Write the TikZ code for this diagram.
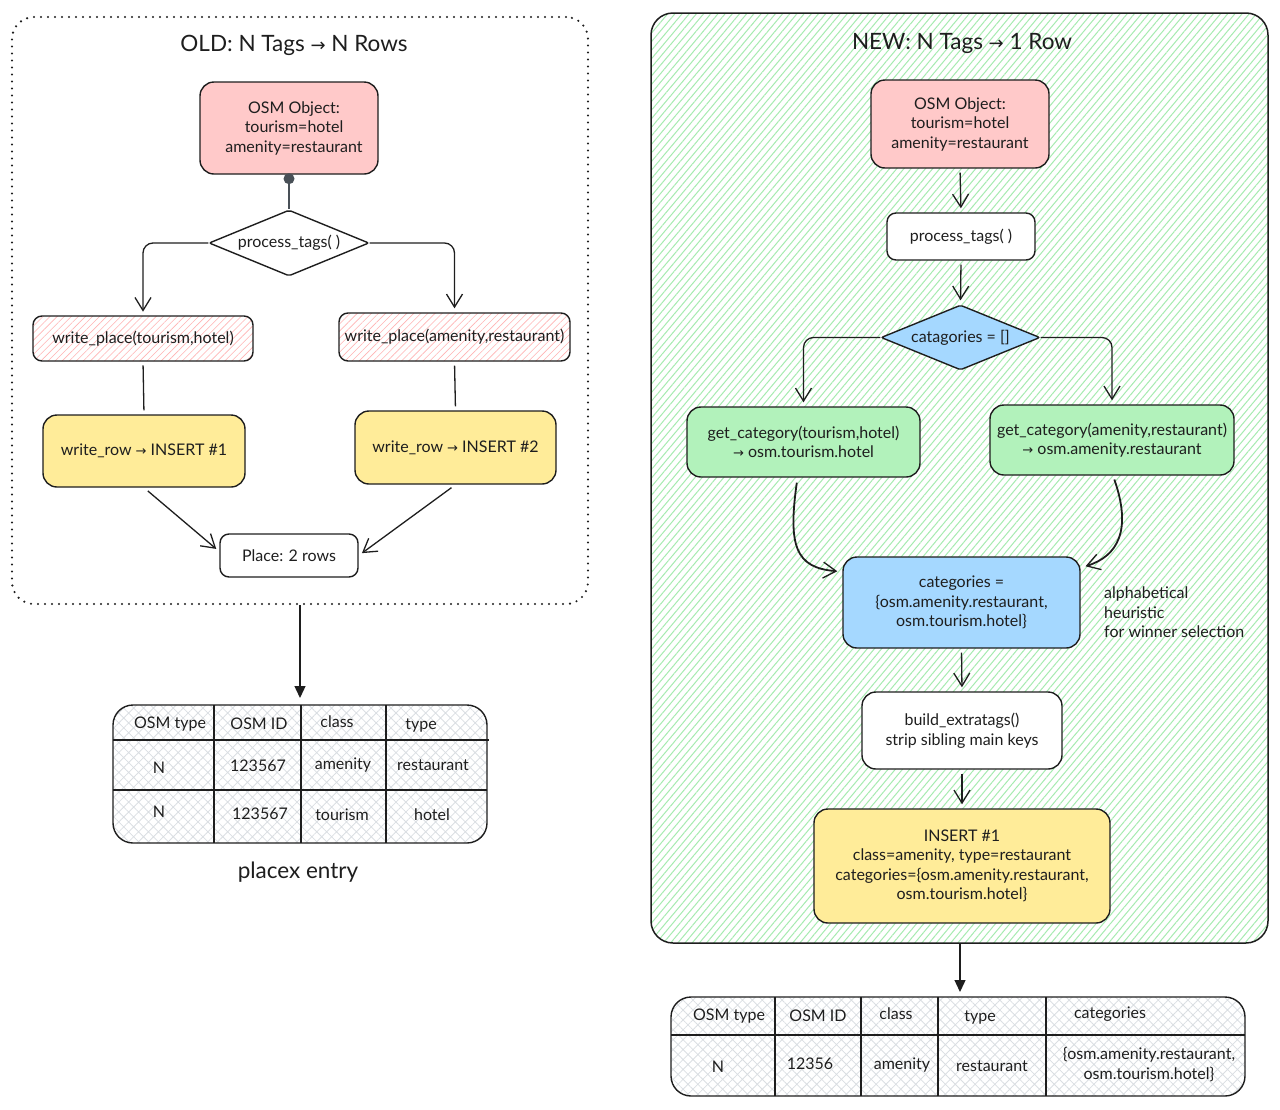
\documentclass[tikz,border=0pt]{standalone}
\usepackage{fontspec}
\setmainfont{Lato}
\newfontfamily\symf{DejaVu Sans}
\usetikzlibrary{shapes.geometric,arrows.meta,patterns.meta,calc}
\definecolor{ink}{HTML}{1E1E1E}
\definecolor{pinkc}{HTML}{FFC9C9}
\definecolor{yellowc}{HTML}{FFEC99}
\definecolor{greenc}{HTML}{B2F2BB}
\definecolor{bluec}{HTML}{A5D8FF}
\definecolor{hatchg}{HTML}{A6EBB0}
\definecolor{hatchr}{HTML}{FFB3B3}
\definecolor{hatchgr}{HTML}{DADEE2}
\definecolor{dotc}{HTML}{495057}
\newcommand\nodefont{\fontsize{16}{19.5}\selectfont}
\newcommand\titlefont{\fontsize{22.5}{26}\selectfont}
\newcommand\ra{{\symf\fontsize{13}{15}\selectfont →}}
\begin{document}
\begin{tikzpicture}[x=1pt,y=-1pt,
  every node/.style={text=ink},
  box/.style={draw=ink, line width=1.4pt, rounded corners=14pt, align=center, font=\nodefont, inner sep=2pt},
  sbox/.style={box, rounded corners=9pt},
  hatchred/.style={sbox, preaction={fill=white}, pattern={Lines[angle=45,distance=5pt,line width=0.6pt]}, pattern color=hatchr},
  dia/.style={draw=ink, line width=1.4pt, diamond, aspect=2.45, inner sep=0pt, rounded corners=2pt, font=\nodefont},
  arr/.style={draw=ink, line width=1.3pt, shorten >=4pt, -{Straight Barb[length=13pt,width=16pt,line width=1.3pt]}},
  farr/.style={draw=ink, line width=1.3pt, shorten >=2pt, -{Triangle[length=12pt,width=11pt]}},
  conn/.style={draw=ink, line width=1.3pt},
  cell/.style={font=\nodefont, align=center, inner sep=1pt},
  tab/.style={draw=ink, line width=1.4pt, rounded corners=20pt, pattern={Hatch[angle=45,distance=7pt,line width=0.8pt]}, pattern color=hatchgr},
  sep/.style={draw=ink, line width=1.3pt}
]
\useasboundingbox (0,0) rectangle (1280,1109);

% ---------- panels ----------
\node[draw=ink, line width=2.4pt, dash pattern=on 0pt off 7pt, line cap=round, rounded corners=22pt, minimum width=576, minimum height=587] (oldp) at (300,310.5) {};
\node[draw=ink, line width=1.5pt, rounded corners=22pt, minimum width=617, minimum height=930, preaction={fill=white}, pattern={Lines[angle=50,distance=5.5pt,line width=1pt]}, pattern color=hatchg] (newp) at (959.5,478) {};

\node[font=\titlefont] (tL) at (294,45) {OLD: N Tags {\symf\fontsize{18}{22}\selectfont →} N Rows};
\node[font=\titlefont] (tR) at (962,43) {NEW: N Tags {\symf\fontsize{18}{22}\selectfont →} 1 Row};

% ---------- OLD flow ----------
\node[box, fill=pinkc, minimum width=178, minimum height=92] (osmL) at (289,128) {\hspace*{10pt}OSM Object:\\\hspace*{10pt}tourism=hotel\\\hspace*{10pt}amenity=restaurant};
\node[dia, fill=white, minimum width=160, minimum height=66] (dia1) at (289,243) {process\_tags( )};
\node[hatchred, minimum width=220, minimum height=45] (wpL) at (143,338.5) {write\_place(tourism,hotel)};
\node[hatchred, minimum width=231, minimum height=48] (wpR) at (454.5,337) {write\_place(amenity,restaurant)};
\node[box, fill=yellowc, minimum width=202, minimum height=72] (wrL) at (144,451) {write\_row \ra{} INSERT \#1};
\node[box, fill=yellowc, minimum width=201, minimum height=73] (wrR) at (455.5,447.5) {write\_row \ra{} INSERT \#2};
\node[sbox, fill=white, minimum width=138, minimum height=43] (place) at (289,555.5) {Place: 2 rows};

\draw[draw=dotc, line width=1.4pt] (osmL.south) -- (dia1.north);
\fill[dotc] ($(osmL.south)+(0,4)$) circle (5.5pt);
\draw[arr, rounded corners=10pt] (dia1.west) -| (wpL.north);
\draw[arr, rounded corners=10pt] (dia1.east) -| (wpR.north);
\draw[conn, shorten <=4pt, shorten >=4pt] (wpL.south) -- (wrL.north);
\draw[conn, shorten <=4pt, shorten >=4pt] (wpR.south) -- (wrR.north);
\draw[arr, shorten <=5pt] (wrL.south) -- ($(place.west)+(0,-4)$);
\draw[arr, shorten <=5pt] (wrR.south) -- ($(place.east)+(0,0)$);

% ---------- OLD table ----------
\draw[farr] (oldp.south) -- (300,700);
\node[tab, minimum width=374, minimum height=138] (tabL) at (300,774) {};
\draw[sep] (214,705) -- (214,843);
\draw[sep] (301,705) -- (301,843);
\draw[sep] (386,705) -- (386,843);
\draw[sep] (113,740) -- (489,740);
\draw[sep] (113,790) -- (487,790);
\node[cell] (a11) at (170,724) {OSM type};
\node[cell] (a12) at (259,724) {OSM ID};
\node[cell] (a13) at (337,722) {class};
\node[cell] (a14) at (421,725) {type};
\node[cell] (a21) at (159,768) {N};
\node[cell] (a22) at (258,766) {123567};
\node[cell] (a23) at (343,765) {amenity};
\node[cell] (a24) at (433,765) {restaurant};
\node[cell] (a31) at (159,812) {N};
\node[cell] (a32) at (260,814) {123567};
\node[cell] (a33) at (342,815) {tourism};
\node[cell] (a34) at (432,815) {hotel};
\node[font=\fontsize{22.5}{26}\selectfont] (plx) at (298,872) {placex entry};

% ---------- NEW flow ----------
\node[box, fill=pinkc, minimum width=178, minimum height=88] (osmR) at (960,124) {OSM Object:\\tourism=hotel\\amenity=restaurant};
\node[sbox, fill=white, minimum width=148, minimum height=47] (ptR) at (961,236.5) {process\_tags( )};
\node[dia, fill=bluec, minimum width=159, minimum height=65] (dia2) at (960.5,337.5) {catagories = []};
\node[box, fill=greenc, minimum width=233, minimum height=70] (gcL) at (803.5,442) {get\_category(tourism,hotel)\\\ra{} osm.tourism.hotel};
\node[box, fill=greenc, minimum width=244, minimum height=70] (gcR) at (1112,440) {get\_category(amenity,restaurant)\\\ra{} osm.amenity.restaurant};
\node[box, fill=bluec, minimum width=237, minimum height=91] (cat) at (961.5,602.5) {categories =\\\{osm.amenity.restaurant,\\osm.tourism.hotel\}};
\node[font=\nodefont, align=left, anchor=north west, inner sep=0pt] (note) at (1104,587) {alphabetical\\heuristic\\for winner selection};
\node[box, fill=white, minimum width=200, minimum height=77] (bet) at (962,730.5) {build\_extratags()\\strip sibling main keys};
\node[box, fill=yellowc, minimum width=296, minimum height=114] (ins) at (962,866) {INSERT \#1\\class=amenity, type=restaurant\\categories=\{osm.amenity.restaurant,\\osm.tourism.hotel\}};

\draw[arr, shorten <=4pt] (osmR.south) -- (ptR.north);
\draw[arr, shorten <=4pt] (ptR.south) -- (dia2.north);
\draw[arr, rounded corners=10pt] (dia2.west) -| (gcL.north);
\draw[arr, rounded corners=10pt] (dia2.east) -| (gcR.north);
\draw[arr, line width=1.8pt, shorten <=5pt] ($(gcL.south)+(-6,0)$) .. controls (788,545) and (795,568) .. ($(cat.west)+(-1,-31)$);
\draw[arr, line width=1.8pt, shorten <=4pt] ($(gcR.south)+(1,0)$) .. controls (1132,530) and (1118,556) .. ($(cat.east)+(1,-35)$);
\draw[arr, shorten <=4pt] (cat.south) -- (bet.north);
\draw[arr, shorten <=4pt] (bet.south) -- (ins.north);

% ---------- NEW table ----------
\draw[farr] (960,944) -- (960,994);
\node[tab, minimum width=574, minimum height=99] (tabR) at (958,1046.5) {};
\draw[sep] (775,997) -- (775,1096);
\draw[sep] (861,997) -- (861,1096);
\draw[sep] (938,997) -- (938,1096);
\draw[sep] (1046,997) -- (1046,1096);
\draw[sep] (671,1035) -- (1245,1035);
\node[cell] (b11) at (729,1016) {OSM type};
\node[cell] (b12) at (818,1016) {OSM ID};
\node[cell] (b13) at (896,1014) {class};
\node[cell] (b14) at (980,1017) {type};
\node[cell] (b15) at (1110,1014) {categories};
\node[cell] (b21) at (718,1067) {N};
\node[cell] (b22) at (810,1064) {12356};
\node[cell] (b23) at (902,1065) {amenity};
\node[cell] (b24) at (992,1066) {restaurant};
\node[cell] (b25) at (1149,1064.5) {\{osm.amenity.restaurant,\\osm.tourism.hotel\}};
\end{tikzpicture}
\end{document}
